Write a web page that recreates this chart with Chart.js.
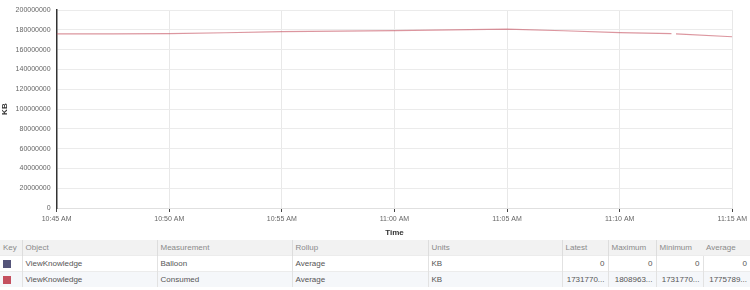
<!DOCTYPE html>
<html>
<head>
<meta charset="utf-8">
<script src="https://cdn.jsdelivr.net/npm/chart.js@4"></script>
<style>
  body { margin: 0; background: #fff; font-family: "Liberation Sans", Arial, sans-serif; }
  #wrap { position: relative; width: 750px; height: 240px; }
  table { border-collapse: collapse; width: 750px; font-size: 8px; table-layout: fixed; }
  th, td { height: 15px; padding: 0 3px; white-space: nowrap; overflow: hidden; text-overflow: ellipsis; }
  th { background: #f2f2f2; color: #8a8a8a; font-weight: normal; text-align: left; border-left: 1px solid #ddd; }
  td { color: #555; border-left: 1px solid #e2e2e2; border-top: 1px solid #ececec; }
  th:first-child, td:first-child { border-left: none; }
  th.nob { border-left: none; }
  tr.alt td { background: #f5f7fa; }
  td.num { text-align: right; }
  .sw { display: inline-block; width: 8px; height: 8px; vertical-align: middle; }
</style>
</head>
<body>
<div id="wrap"><canvas id="perfChart"></canvas></div>
<table id="legendTable">
  <colgroup>
    <col style="width:22px"><col style="width:135px"><col style="width:135px"><col style="width:136px">
    <col style="width:134px"><col style="width:46px"><col style="width:48px"><col style="width:47px"><col style="width:47px">
  </colgroup>
  <thead><tr id="headRow"></tr></thead>
  <tbody id="bodyRows"></tbody>
</table>
<script>
// chart data
const timeLabels = ["10:45 AM", "10:50 AM", "10:55 AM", "11:00 AM", "11:05 AM", "11:10 AM", "11:15 AM"];
const minutes = [0, 2.5, 5, 7.5, 10, 12.5, 15, 17.5, 20, 22.5, 25, 27.3, 27.4, 27.5, 30];
const consumed = [176000000, 176100000, 176300000, 177200000, 178300000, 178800000, 179300000, 180100000, 180896300,
                  179200000, 177400000, 176300000, null, 176100000, 173177000];
const yTicks = [0, 20000000, 40000000, 60000000, 80000000, 100000000, 120000000, 140000000, 160000000, 180000000, 200000000];

// legend table
const columns = ["Key", "Object", "Measurement", "Rollup", "Units", "Latest", "Maximum", "Minimum", "Average"];
const seriesNames = ["Balloon", "Consumed"];
const seriesColors = ["#55557a", "#c4505f"];
const latest = ["0", "173177000"];
const maximum = ["0", "180896300"];
const minimum = ["0", "173177000"];
const average = ["0", "177578900"];

function clip(s) {
  return s.length > 7 ? s.slice(0, 7) + "..." : s;
}

const headRow = document.getElementById("headRow");
columns.forEach((c) => {
  const th = document.createElement("th");
  th.textContent = c;
  if (c === "Average") th.className = "nob";
  headRow.appendChild(th);
});
const body = document.getElementById("bodyRows");
seriesNames.forEach((name, i) => {
  const tr = document.createElement("tr");
  if (i === 1) tr.className = "alt";
  tr.innerHTML =
    '<td><span class="sw" style="background:' + seriesColors[i] + '"></span></td>' +
    "<td>ViewKnowledge</td><td>" + name + "</td><td>Average</td><td>KB</td>" +
    '<td class="num">' + clip(latest[i]) + '</td><td class="num">' + clip(maximum[i]) + "</td>" +
    '<td class="num">' + clip(minimum[i]) + '</td><td class="num">' + clip(average[i]) + "</td>";
  body.appendChild(tr);
});

// chart
Chart.defaults.font.family = "'Liberation Sans', Arial, sans-serif";
const ctx = document.getElementById("perfChart").getContext("2d");
const perfChart = new Chart(ctx, {
  type: "line",
  data: {
    datasets: [
      {
        label: "Consumed",
        data: minutes.map((m, i) => ({ x: m, y: consumed[i] })),
        borderColor: "rgba(196, 80, 95, 0.6)",
        borderWidth: 1.2,
        pointRadius: 0,
        tension: 0,
        spanGaps: false,
      },
    ],
  },
  options: {
    responsive: true,
    maintainAspectRatio: false,
    animation: false,
    layout: { padding: { top: -3, right: 14, left: 0, bottom: 0 } },
    plugins: { legend: { display: false }, tooltip: { enabled: false } },
    scales: {
      x: {
        type: "linear",
        min: 0,
        max: 30,
        ticks: {
          stepSize: 5,
          color: "#666",
          font: { size: 7 },
          maxRotation: 0,
          padding: 3,
          callback: (v) => timeLabels[v / 5],
        },
        grid: { color: "#e8e8e8", tickColor: "#444", tickLength: 4 },
        border: { color: "#e0e0e0" },
        title: { display: true, text: "Time", color: "#333", font: { size: 8, weight: "bold" }, padding: { top: 2, bottom: 2 } },
      },
      y: {
        min: 0,
        max: 200000000,
        afterBuildTicks: (axis) => { axis.ticks = yTicks.map((v) => ({ value: v })); },
        ticks: { color: "#666", font: { size: 7 }, padding: 6, callback: (v) => String(v) },
        grid: { color: "#ebebeb", drawTicks: false },
        border: { color: "#333", width: 1.5 },
        title: { display: true, text: "KB", color: "#333", font: { size: 8, weight: "bold" }, padding: 0 },
      },
    },
  },
});
</script>
</body>
</html>
